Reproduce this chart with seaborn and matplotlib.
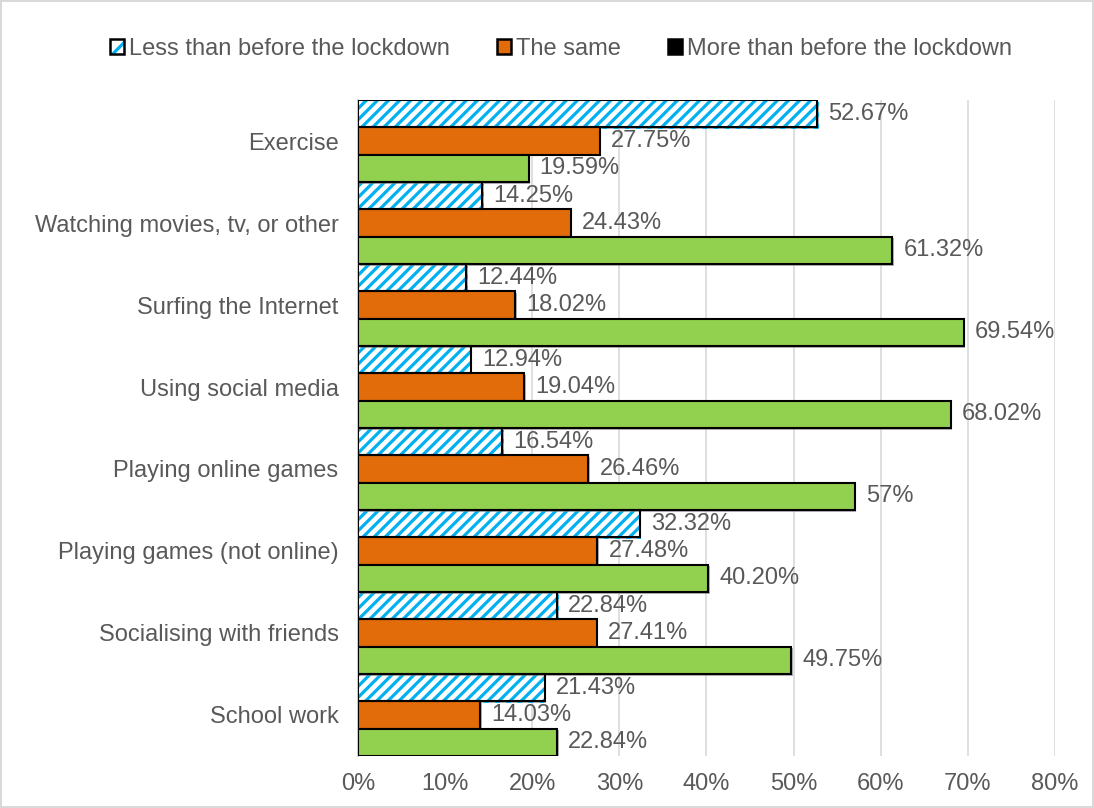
import numpy as np
import pandas as pd
import seaborn as sns
import matplotlib.pyplot as plt
import matplotlib.patheffects as pe
from matplotlib.patches import Patch, Rectangle
from matplotlib.legend_handler import HandlerTuple

# Datos
actividades = ["Exercise", "Watching movies, tv, or other", "Surfing the Internet",
               "Using social media", "Playing online games", "Playing games (not online)",
               "Socialising with friends", "School work"]
series = ["Less than before the lockdown", "The same", "More than before the lockdown"]

menos = [52.67, 14.25, 12.44, 12.94, 16.54, 32.32, 22.84, 21.43]
igual = [27.75, 24.43, 18.02, 19.04, 26.46, 27.48, 27.41, 14.03]
mas = [19.59, 61.32, 69.54, 68.02, 57, 40.20, 49.75, 22.84]

etq_menos = ["52.67%", "14.25%", "12.44%", "12.94%", "16.54%", "32.32%", "22.84%", "21.43%"]
etq_igual = ["27.75%", "24.43%", "18.02%", "19.04%", "26.46%", "27.48%", "27.41%", "14.03%"]
etq_mas = ["19.59%", "61.32%", "69.54%", "68.02%", "57%", "40.20%", "49.75%", "22.84%"]

ticks_x = [0, 10, 20, 30, 40, 50, 60, 70, 80]

azul = "#00B0F0"
naranja = "#E36C0A"
verde = "#92D050"
gris_txt = "#595959"
fs = 17

df = pd.DataFrame({
    "actividad": actividades * 3,
    "serie": [series[0]] * 8 + [series[1]] * 8 + [series[2]] * 8,
    "valor": menos + igual + mas,
})

sns.set_style("white")
plt.rcParams["font.family"] = ["Liberation Sans", "DejaVu Sans"]
plt.rcParams["hatch.linewidth"] = 2.3

fig = plt.figure(figsize=(10.94, 8.08), dpi=100)
fig.patch.set_edgecolor("#D9D9D9")
fig.patch.set_linewidth(1.5)
ax = fig.add_axes([0.3272, 0.0644, 0.9643 - 0.3272, 0.8762 - 0.0644])

sombra = [pe.SimplePatchShadow(offset=(1.2, -1.2), shadow_rgbFace="#7F7F7F", alpha=0.6),
          pe.Normal()]

sns.barplot(data=df, y="actividad", x="valor", hue="serie", order=actividades,
            hue_order=series, palette=["white", naranja, verde], saturation=1,
            width=1.0, orient="h", edgecolor="black", linewidth=1.5, legend=False,
            ax=ax, zorder=3)

for p in ax.patches:
    p.set_path_effects(sombra)

# Barras rayadas: el rayado toma el color del borde, así que se dibuja el contorno aparte
for p in ax.patches[:8]:
    p.set_facecolor("white")
    p.set_edgecolor(azul)
    p.set_hatch("///")
    p.set_linewidth(0)
    ax.add_patch(Rectangle((p.get_x(), p.get_y()), p.get_width(), p.get_height(),
                           fill=False, edgecolor="black", linewidth=1.5, zorder=4))

etiquetas = [etq_menos, etq_igual, etq_mas]
for i, cont in enumerate(ax.containers):
    ax.bar_label(cont, labels=etiquetas[i], padding=8, fontsize=fs, color=gris_txt)

ax.set_xlim(0, 80)
ax.set_ylim(7.5, -0.5)
ax.set_xticks(ticks_x)
ax.set_xticklabels([f"{t}%" for t in ticks_x])
ax.tick_params(axis="x", labelsize=fs, labelcolor=gris_txt, pad=12, length=0)
ax.tick_params(axis="y", labelsize=fs, labelcolor=gris_txt, pad=14, length=0)
ax.set_xlabel("")
ax.set_ylabel("")
ax.xaxis.grid(True, color="#D9D9D9", linewidth=1.2, zorder=0)
ax.set_axisbelow(True)
for s in ["top", "right", "bottom"]:
    ax.spines[s].set_visible(False)
ax.spines["left"].set_color("#BFBFBF")
ax.spines["left"].set_linewidth(1.2)

h_menos = (Patch(facecolor="white", edgecolor=azul, hatch="//", linewidth=0),
           Patch(fill=False, edgecolor="black", linewidth=1.8))
handles = [
    h_menos,
    Patch(facecolor=naranja, edgecolor="black", linewidth=1.8),
    Patch(facecolor="black", edgecolor="black", linewidth=1.8),
]
leg = fig.legend(handles, series, loc="center", bbox_to_anchor=(0.513, 0.939), ncol=3,
                 frameon=False, fontsize=fs, handlelength=0.6, handleheight=0.6,
                 handletextpad=0.2, columnspacing=2.0, labelcolor=gris_txt,
                 handler_map={tuple: HandlerTuple(ndivide=1, pad=0)})

fig.savefig("out.png", dpi=100)
